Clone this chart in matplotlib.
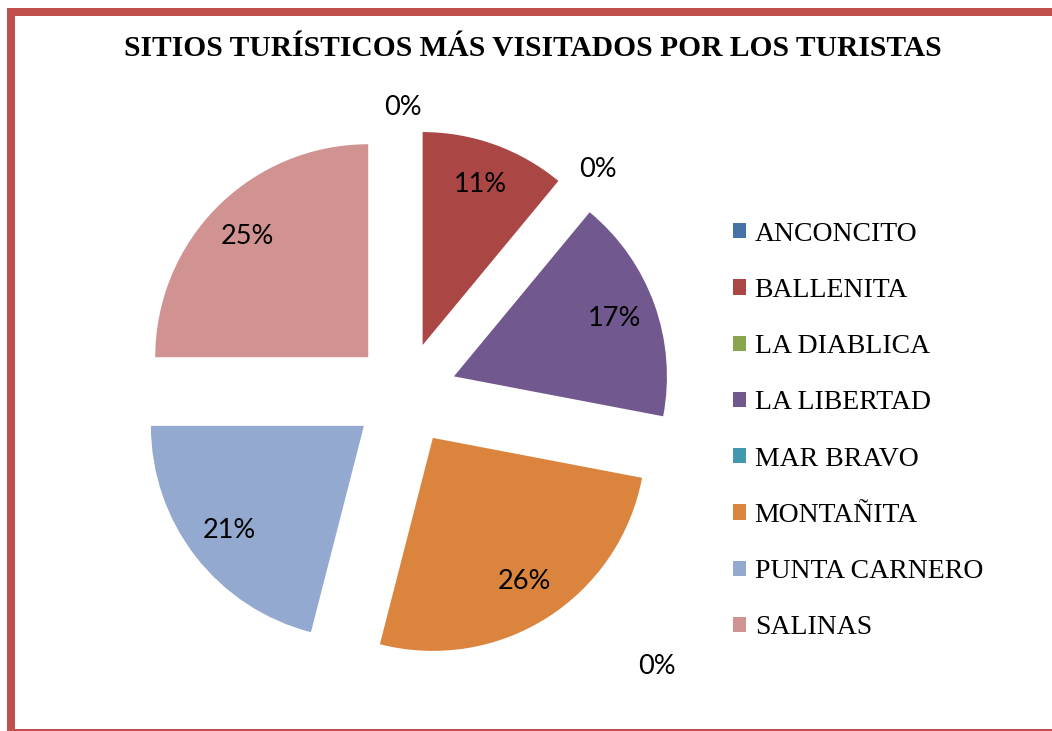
import matplotlib
matplotlib.use("Agg")
import matplotlib.pyplot as plt
from matplotlib.patches import Patch
import numpy as np

categories = ["ANCONCITO", "BALLENITA", "LA DIABLICA", "LA LIBERTAD",
              "MAR BRAVO", "MONTAÑITA", "PUNTA CARNERO", "SALINAS"]
percentages = [0, 11, 0, 17, 0, 26, 21, 25]
colors = ["#4572A7", "#AA4643", "#89A54E", "#71588F",
          "#4198AF", "#DB843D", "#93A9CF", "#D19392"]
title = "SITIOS TURÍSTICOS MÁS VISITADOS POR LOS TURISTAS"

W, H = 1052, 731
fig = plt.figure(figsize=(W / 100, H / 100), dpi=100)
ax = fig.add_axes([0, 0, 1, 1])

cx, cy = 405, H - 394
R = 213
explode = [52] * len(percentages)   # in data units (pixels here)

wedges, texts, autotexts = ax.pie(
    percentages, colors=colors, startangle=90, counterclock=False,
    center=(cx, cy), radius=R, explode=explode,
    autopct=lambda p: f"{p:.0f}%", pctdistance=0.80,
    textprops=dict(family="Lato", fontsize=19.5, color="black"),
    wedgeprops=dict(linewidth=0), frame=True)
ax.set_xlim(0, W)
ax.set_ylim(0, H)
ax.set_aspect("equal")
ax.axis("off")

# reposition the zero-value labels (outside, as Excel places them)
theta = 90.0
for i, (p, t) in enumerate(zip(percentages, autotexts)):
    ang = theta - p * 3.6 / 2
    if p == 0:
        if categories[i] == "MAR BRAVO":
            t.set_position((657, H - 666))
        else:
            d = {"ANCONCITO": 1.345, "LA DIABLICA": 1.39}[categories[i]]
            a = np.deg2rad(ang - 1.0 if categories[i] == "LA DIABLICA" else ang + 0.4)
            t.set_position((cx + d * R * np.cos(a), cy + d * R * np.sin(a)))
    theta -= p * 3.6

handles = [Patch(facecolor=c, edgecolor="none") for c in colors]
leg = fig.legend(handles, categories, loc="center left",
                 bbox_to_anchor=(733 / W, (H - 431) / H),
                 frameon=False, borderpad=0, borderaxespad=0,
                 handlelength=0.48, handleheight=0.48, handletextpad=0.3,
                 labelspacing=1.125,
                 prop=dict(family="Liberation Serif", size=20))

fig.text(533 / W, (H - 49) / H, title, ha="center", va="center",
         family="Liberation Serif", fontweight="bold", fontsize=21.25)

# frame (red border, top / left / bottom)
border = "#C0504D"
fig.add_artist(plt.Rectangle((7 / W, 0), 8 / W, (H - 8) / H, transform=fig.transFigure,
                             facecolor=border, edgecolor="none"))
fig.add_artist(plt.Rectangle((7 / W, (H - 16) / H), (W - 7) / W, 8 / H,
                             transform=fig.transFigure, facecolor=border, edgecolor="none"))
fig.add_artist(plt.Rectangle((7 / W, 0), (W - 7) / W, 2.5 / H, transform=fig.transFigure,
                             facecolor=border, edgecolor="none"))

fig.savefig("out.png", dpi=100)
